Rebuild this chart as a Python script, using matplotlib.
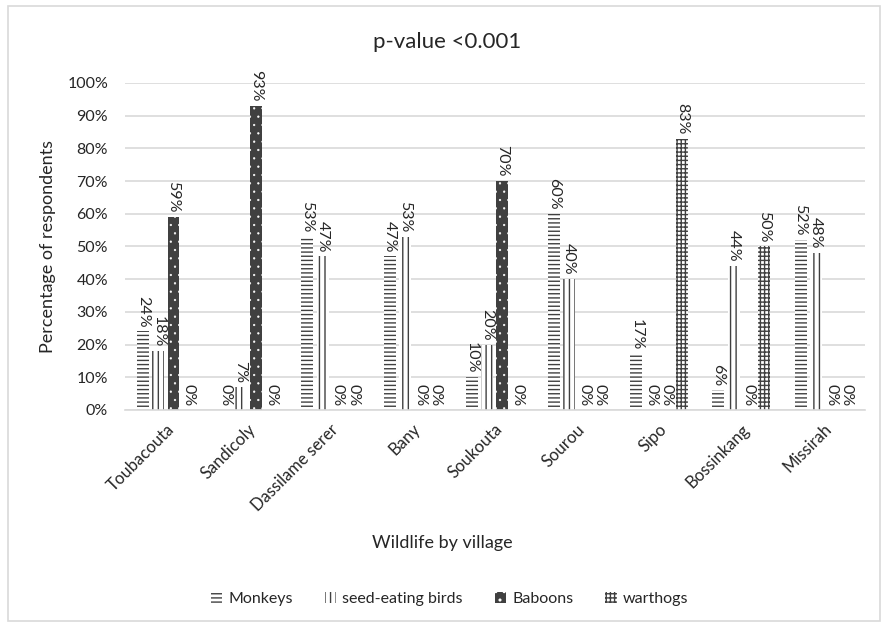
import matplotlib
matplotlib.use("Agg")
import matplotlib.pyplot as plt
import numpy as np

plt.rcParams['font.family'] = ['Lato', 'DejaVu Sans']

villages = ['Toubacouta', 'Sandicoly', 'Dassilame serer', 'Bany', 'Soukouta',
            'Sourou', 'Sipo', 'Bossinkang', 'Missirah']
monkeys = [24, 0, 53, 47, 10, 60, 17, 6, 52]
birds = [18, 7, 47, 53, 20, 40, 0, 44, 48]
baboons = [59, 93, 0, 0, 70, 0, 0, 0, 0]
warthogs = [0, 0, 0, 0, 0, 0, 83, 50, 0]

# name, values, face, hatch colour, hatch, hatch line width
series = [
    ('Monkeys', monkeys, 'white', '#404040', '----', 1.0),
    ('seed-eating birds', birds, 'white', '#404040', '|||', 1.0),
    ('Baboons', baboons, '#404040', 'white', '..', 0.4),
    ('warthogs', warthogs, 'white', '#404040', '++++', 1.0),
]

txt = '#262626'
fig = plt.figure(figsize=(8.85, 6.24), dpi=100)
ax = fig.add_axes([0.141, 0.343, 0.836, 0.524])

x = np.arange(len(villages))
step = 0.186
width = 0.145
for i, (name, vals, fc, hc, hatch, hlw) in enumerate(series):
    pos = x + (i - 1.5) * step
    with plt.rc_context({'hatch.linewidth': hlw}):
        ax.bar(pos, vals, width, color=fc, edgecolor=hc, hatch=hatch,
               linewidth=0, label=name, zorder=2)
    for px, v in zip(pos, vals):
        ax.annotate(f'{v}%', (px, v), xytext=(0, 3), textcoords='offset points',
                    rotation=270, ha='center', va='bottom', fontsize=11.5, color=txt)

ax.set_xlim(-0.5, len(villages) - 0.5)
ax.set_ylim(0, 100)
ax.set_yticks(np.arange(0, 101, 10))
ax.set_yticklabels([f'{t}%' for t in range(0, 101, 10)])
ax.set_xticks(x)
ax.set_xticklabels(villages, rotation=45, ha='right', rotation_mode='anchor')
ax.tick_params(length=0, labelsize=11.5, labelcolor=txt)
ax.tick_params(axis='x', pad=8, labelsize=12)
ax.tick_params(axis='y', pad=12)
ax.grid(axis='y', color='#d9d9d9', linewidth=1.2, zorder=0)
for s in ['top', 'right', 'left']:
    ax.spines[s].set_visible(False)
ax.spines['bottom'].set_color('#d9d9d9')
ax.spines['bottom'].set_linewidth(1.2)

ax.set_ylabel('Percentage of respondents', fontsize=13, color=txt, labelpad=8)
fig.text(0.5, 0.13, 'Wildlife by village', ha='center', va='center',
         fontsize=13, color=txt)
fig.text(0.505, 0.933, 'p-value <0.001', ha='center', va='center',
         fontsize=16, color=txt)

fig.legend(loc='center', bbox_to_anchor=(0.508, 0.04), ncol=4, frameon=False,
           fontsize=11.5, handlelength=0.7, handleheight=0.7, handletextpad=0.4,
           columnspacing=2.0, labelcolor=txt)

# light frame round the whole figure
fig.patches.append(plt.Rectangle((0.009, 0.005), 0.985, 0.985, transform=fig.transFigure,
                                 fill=False, edgecolor='#d9d9d9', linewidth=1.2))

fig.savefig('out.png', dpi=100)
